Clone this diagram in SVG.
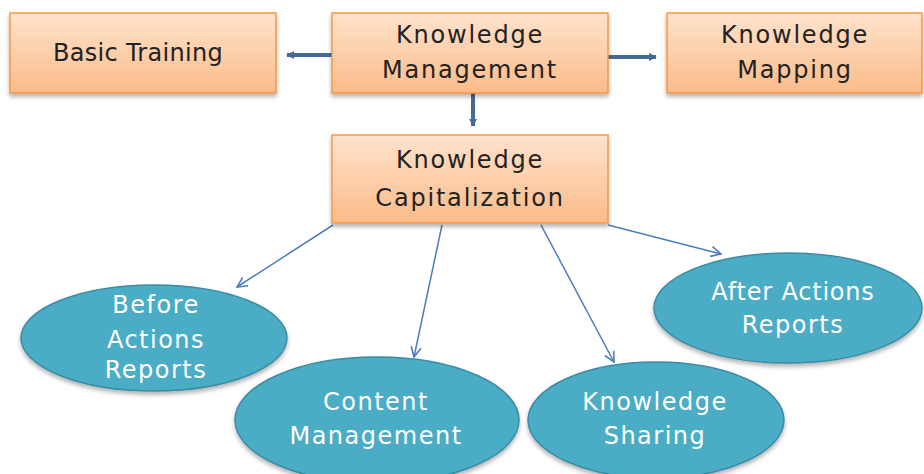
<svg xmlns="http://www.w3.org/2000/svg" width="924" height="474" viewBox="0 0 924 474">
<defs>
<linearGradient id="og" x1="0" y1="0" x2="0" y2="1">
<stop offset="0" stop-color="#fee3cd"/>
<stop offset="1" stop-color="#fbbb88"/>
</linearGradient>
<filter id="sh" x="-10%" y="-10%" width="120%" height="130%">
<feDropShadow dx="0" dy="3" stdDeviation="2" flood-color="#000" flood-opacity="0.3"/>
</filter>
<marker id="thick" viewBox="0 0 10 10" refX="9" refY="5" markerWidth="2" markerHeight="2" orient="auto" markerUnits="strokeWidth">
<path d="M0,0 L10,5 L0,10 z" fill="#46699a"/>
</marker>
<marker id="open" viewBox="0 0 12 12" refX="11" refY="6" markerWidth="8" markerHeight="8" orient="auto" markerUnits="strokeWidth">
<path d="M1,1 L11,6 L1,11" fill="none" stroke="#4a7ebb" stroke-width="1.6"/>
</marker>
</defs>
<style>
.box{fill:url(#og);stroke:#f79646;stroke-width:1.5;filter:url(#sh)}
.ell{fill:#4bacc6;stroke:#3b8ba2;stroke-width:1.5;filter:url(#sh)}
.bt{font-family:"DejaVu Sans",Verdana,sans-serif;font-size:24px;fill:#222;text-anchor:middle;letter-spacing:1.8px}
.et{font-family:"DejaVu Sans",Verdana,sans-serif;font-size:24px;fill:#fff;text-anchor:middle;letter-spacing:1.5px}
.tk{stroke:#46699a;stroke-width:4;fill:none}
.tn{stroke:#4a7ebb;stroke-width:1.5;fill:none}
</style>
<rect width="924" height="474" fill="#fff"/>
<g id="connectors">
<line class="tk" x1="333" y1="55" x2="287" y2="55" marker-end="url(#thick)"/>
<line class="tk" x1="607" y1="57" x2="656" y2="57" marker-end="url(#thick)"/>
<line class="tk" x1="473" y1="93" x2="473" y2="126" marker-end="url(#thick)"/>
<line class="tn" x1="333" y1="225" x2="237" y2="287" marker-end="url(#open)"/>
<line class="tn" x1="442" y1="225" x2="414" y2="357" marker-end="url(#open)"/>
<line class="tn" x1="541" y1="225" x2="614" y2="362" marker-end="url(#open)"/>
<line class="tn" x1="608" y1="225" x2="721" y2="254" marker-end="url(#open)"/>
</g>
<g id="basic-training">
<rect class="box" x="10" y="13" width="266" height="80"/>
<text class="bt" x="138" y="61" style="letter-spacing:0.3px">Basic Training</text>
</g>
<g id="knowledge-management">
<rect class="box" x="332" y="13" width="276" height="80"/>
<text class="bt" x="470" y="43">Knowledge</text>
<text class="bt" x="470" y="78">Management</text>
</g>
<g id="knowledge-mapping">
<rect class="box" x="667" y="13" width="255" height="80"/>
<text class="bt" x="795" y="43">Knowledge</text>
<text class="bt" x="795" y="78">Mapping</text>
</g>
<g id="knowledge-capitalization">
<rect class="box" x="332" y="135" width="276" height="88"/>
<text class="bt" x="470" y="168">Knowledge</text>
<text class="bt" x="470" y="206">Capitalization</text>
</g>
<g id="before-actions-reports">
<ellipse class="ell" cx="154" cy="338" rx="133" ry="53"/>
<text class="et" x="156" y="313">Before</text>
<text class="et" x="156" y="348">Actions</text>
<text class="et" x="156" y="378">Reports</text>
</g>
<g id="content-management">
<ellipse class="ell" cx="377" cy="420" rx="142" ry="63"/>
<text class="et" x="376" y="410">Content</text>
<text class="et" x="376" y="444">Management</text>
</g>
<g id="knowledge-sharing">
<ellipse class="ell" cx="656" cy="420" rx="128" ry="58"/>
<text class="et" x="655" y="410">Knowledge</text>
<text class="et" x="655" y="444">Sharing</text>
</g>
<g id="after-actions-reports">
<ellipse class="ell" cx="788" cy="308" rx="134" ry="55"/>
<text class="et" x="793" y="300" style="letter-spacing:0.8px">After Actions</text>
<text class="et" x="793" y="333">Reports</text>
</g>
</svg>
